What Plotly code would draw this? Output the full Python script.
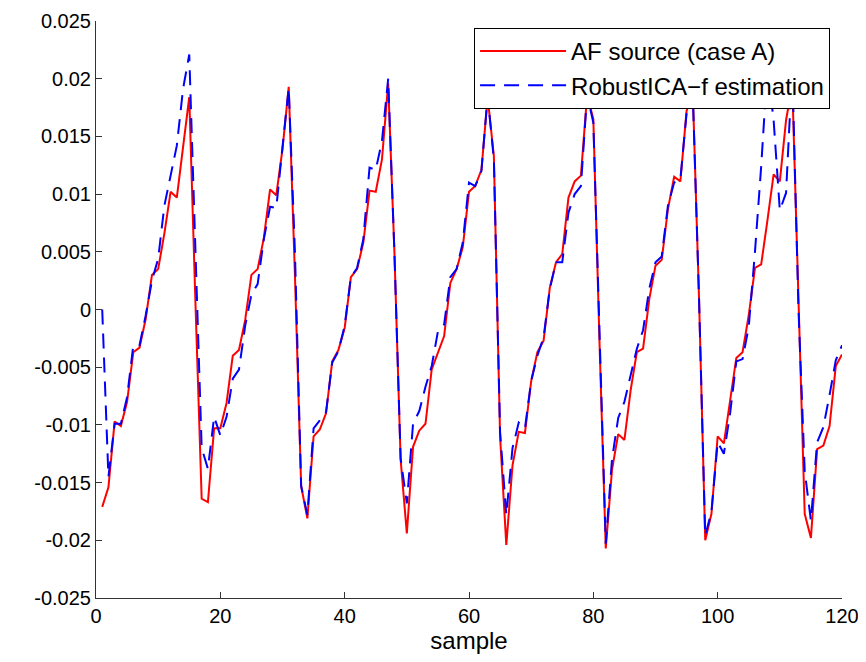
import plotly.graph_objects as go

# sample index
samples = list(range(1, 121))

# AF source (case A), values in units of 1e-3
af_source_milli = [
    -17.1, -15.4, -9.7, -10.1, -8.0, -3.7, -3.3, -0.8, 3.0, 3.5,
    6.6, 10.2, 9.7, 14.2, 18.4, 0.5, -16.4, -16.7, -10.3, -10.3,
    -8.1, -4.0, -3.5, -0.9, 3.0, 3.5, 6.2, 10.4, 9.9, 13.9,
    19.3, 3.0, -15.3, -18.1, -11.0, -10.4, -9.0, -4.5, -3.5, -1.6,
    2.8, 3.5, 5.8, 10.3, 10.2, 13.0, 19.6, 5.0, -13.0, -19.4,
    -11.9, -10.5, -9.9, -5.2, -3.7, -2.3, 2.3, 3.5, 5.4, 10.2,
    10.7, 12.1, 18.4, 13.3, -11.0, -20.4, -13.5, -10.6, -10.7, -6.2,
    -3.7, -2.7, 1.9, 4.1, 4.8, 9.7, 11.1, 11.6, 18.6, 16.5,
    -3.0, -20.7, -13.9, -10.8, -11.3, -7.0, -3.7, -3.4, 0.9, 3.8,
    4.3, 8.7, 11.5, 11.1, 17.2, 18.8, 1.0, -20.0, -17.7, -11.0,
    -11.6, -8.0, -4.2, -3.7, -0.5, 3.6, 3.9, 7.7, 11.7, 11.1,
    16.4, 19.5, 0.5, -17.7, -19.8, -12.1, -11.8, -10.1, -4.9, -3.9,
]

# RobustICA-f estimation, values in units of 1e-3
robustica_milli = [
    0.0, -14.5, -9.9, -9.9, -7.6, -3.1, -3.1, -0.5, 2.5, 4.4,
    9.0, 11.6, 14.2, 19.1, 22.1, 5.0, -12.0, -13.8, -9.3, -10.9,
    -9.3, -6.0, -5.2, -1.4, 1.3, 2.2, 6.1, 8.9, 8.8, 14.1,
    19.2, 5.0, -15.3, -17.8, -10.3, -9.6, -8.9, -4.6, -3.6, -1.4,
    2.8, 3.6, 6.1, 12.3, 12.1, 14.6, 20.0, 5.0, -12.9, -16.8,
    -9.9, -8.8, -6.7, -4.9, -1.9, -1.3, 2.8, 3.5, 5.8, 11.0,
    10.7, 12.0, 18.5, 13.0, -10.6, -17.8, -12.0, -9.8, -10.3, -6.2,
    -4.0, -2.4, 1.8, 4.1, 4.1, 8.4, 10.0, 10.7, 18.6, 16.2,
    -3.0, -20.3, -13.0, -9.4, -8.0, -5.7, -3.4, -1.8, 1.8, 4.1,
    4.6, 9.0, 11.0, 11.3, 17.0, 18.7, 1.0, -19.6, -17.5, -11.5,
    -12.5, -9.0, -4.5, -4.3, -1.5, 5.0, 12.4, 21.0, 16.4, 8.6,
    10.1, 21.0, 0.0, -14.0, -18.3, -11.5, -10.2, -7.4, -4.4, -3.1,
]

af_source = [v / 1000.0 for v in af_source_milli]
robustica = [v / 1000.0 for v in robustica_milli]

y_tick_vals = [0.025, 0.02, 0.015, 0.01, 0.005, 0, -0.005, -0.01, -0.015, -0.02, -0.025]
y_tick_text = ["0.025", "0.02", "0.015", "0.01", "0.005", "0",
               "-0.005", "-0.01", "-0.015", "-0.02", "-0.025"]
x_tick_vals = [0, 20, 40, 60, 80, 100, 120]

FONT = "Liberation Sans, Arial, Helvetica, sans-serif"

fig = go.Figure()
fig.add_trace(go.Scatter(
    x=samples, y=af_source, mode="lines", name="AF source (case A)",
    line=dict(color="#ff0000", width=2),
))
fig.add_trace(go.Scatter(
    x=samples, y=robustica, mode="lines", name="RobustICA\u2212f estimation",
    line=dict(color="#0000ff", width=2, dash="15px,9px"),
))

# the page body has an 8px margin, so the figure is offset by 8px
fig.update_layout(
    width=858, height=654,
    margin=dict(l=88, r=24, t=13, b=64),
    paper_bgcolor="white", plot_bgcolor="white",
    font=dict(family=FONT, size=20, color="black"),
    showlegend=True,
    legend=dict(
        x=0.984, y=0.988, xanchor="right", yanchor="top",
        bgcolor="white", bordercolor="black", borderwidth=1,
        font=dict(family=FONT, size=24, color="black"),
        itemwidth=86, tracegroupgap=0,
    ),
    xaxis=dict(
        range=[0, 120], tickvals=x_tick_vals, ticks="inside", ticklen=6,
        showline=True, linecolor="#333333", linewidth=1, tickcolor="#333333",
        showgrid=False, zeroline=False, mirror=False, automargin=False,
        ticklabeloverflow="allow",
        title=dict(text="sample", font=dict(family=FONT, size=24), standoff=4),
        tickfont=dict(family=FONT, size=20),
    ),
    yaxis=dict(
        range=[-0.025, 0.025], tickvals=y_tick_vals, ticktext=y_tick_text,
        ticks="inside", ticklen=6, automargin=False,
        ticklabeloverflow="allow",
        showline=True, linecolor="#333333", linewidth=1, tickcolor="#333333",
        showgrid=False, zeroline=False, mirror=False,
        tickfont=dict(family=FONT, size=20),
    ),
)

fig.write_html("out.html")
